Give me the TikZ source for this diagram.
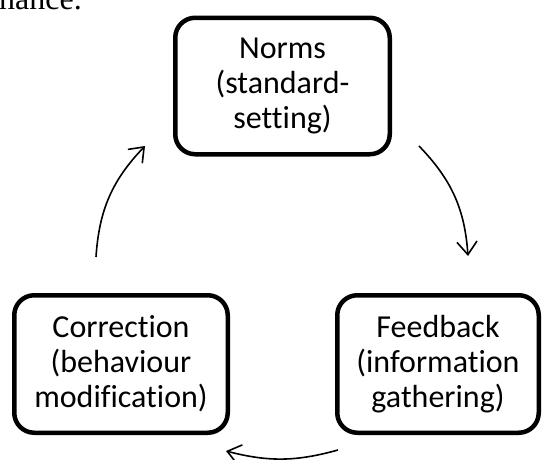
\documentclass[tikz,border=0pt]{standalone}
\usepackage{fontspec}
\setmainfont[RawFeature={-liga}]{Carlito}
\newfontfamily\serifbody{Liberation Serif}
\usetikzlibrary{arrows.meta}
\tikzset{
  stagebox/.style={draw=black, line width=4.5pt, rounded corners=20pt, rectangle,
    align=center, inner sep=0pt, font=\fontsize{32}{35}\selectfont},
  cyclearrow/.style={line width=1.6pt, -{Straight Barb[length=13pt,width=20pt]}}
}
\begin{document}
\begin{tikzpicture}[x=1pt,y=-1pt]
\useasboundingbox (0,0) rectangle (542,459);
\node[anchor=base west, inner sep=0pt, font=\serifbody\fontsize{32}{38}\selectfont] (txt) at (-1,9) {nance.};
\node[stagebox, minimum width=214.5pt, minimum height=136.5pt] (norms) at (282.5,86) {Norms\\(standard-\\setting)};
\node[stagebox, minimum width=213.5pt, minimum height=137.5pt] (corr) at (121,364) {Correction\\(behaviour\\modification)};
\node[stagebox, minimum width=201.5pt, minimum height=137.5pt] (feed) at (438,364) {Feedback\\(information\\gathering)};
\coordinate (a1s) at (419,146);
\coordinate (a1e) at (468,256);
\coordinate (a2s) at (338,450);
\coordinate (a2e) at (226,451);
\coordinate (a3s) at (96,257);
\coordinate (a3e) at (145,146);
\draw[cyclearrow] (a1s) to[bend left=20] (a1e);
\draw[cyclearrow] (a2s) to[bend left=15] (a2e);
\draw[cyclearrow] (a3s) to[bend left=20] (a3e);
\end{tikzpicture}
\end{document}
